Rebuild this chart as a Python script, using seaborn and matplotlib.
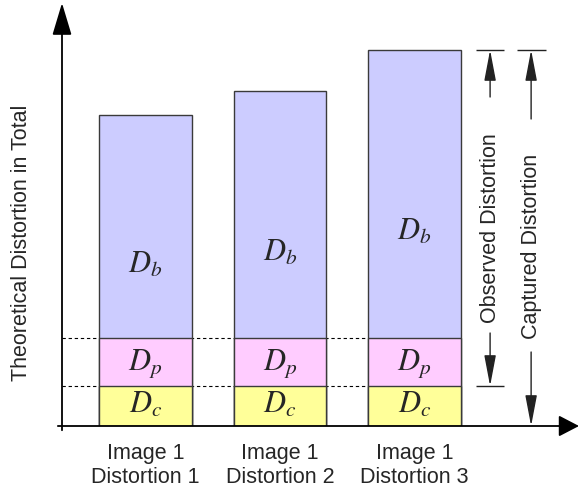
import matplotlib
matplotlib.use("Agg")
import matplotlib.pyplot as plt
import seaborn as sns
import pandas as pd

# Stacked distortion components for each distorted image
labels = ["Image 1\nDistortion 1", "Image 1\nDistortion 2", "Image 1\nDistortion 3"]
d_c = [40, 40, 40]
d_p = [48, 48, 48]
d_b = [223, 247, 288]

sns.set_style("white")
plt.rcParams["font.family"] = ["Liberation Sans", "DejaVu Sans"]
plt.rcParams["mathtext.fontset"] = "stix"

df = pd.DataFrame({"label": labels, "Dc": d_c, "Dp": d_p, "Db": d_b})
df["cp"] = df["Dc"] + df["Dp"]
df["total"] = df["cp"] + df["Db"]

W, H = 579, 499
fig = plt.figure(figsize=(W / 100, H / 100), dpi=100)
ax = fig.add_axes([62 / W, (H - 426) / H, (W - 62) / W, (426 - 3) / H])
ax.patch.set_alpha(0)

edge = "#3a3a3a"
bw = 0.69
blue, pink, yellow = "#ccccff", "#ffccff", "#ffff99"

# overlay cumulative totals to build the stacks
for col, colr in [("total", blue), ("cp", pink), ("Dc", yellow)]:
    sns.barplot(data=df, x="label", y=col, color=colr, width=bw, saturation=1,
                edgecolor=edge, linewidth=1, ax=ax, zorder=2)

x0, x1 = -0.621, 3.223
ax.set_xlim(x0, x1)
ax.set_ylim(0, 423)
ax.set_xlabel("")
ax.set_ylabel("")
ax.set_yticks([])
ax.set_xticks(range(len(labels)))
ax.set_xticklabels(labels, fontsize=15.5, linespacing=1.2)
ax.tick_params(axis="x", length=0, pad=12)
for s in ax.spines.values():
    s.set_visible(False)

# axis arrows
ax.annotate("", xy=(0, 1), xytext=(0, -0.01), xycoords="axes fraction",
            arrowprops=dict(arrowstyle="-|>,head_length=2.0,head_width=0.6",
                            lw=1.3, color="black", shrinkA=0, shrinkB=0,
                            mutation_scale=10), annotation_clip=False)
ax.annotate("", xy=(1, 0), xytext=(-0.008, 0), xycoords="axes fraction",
            arrowprops=dict(arrowstyle="-|>,head_length=1.25,head_width=0.65",
                            lw=1.3, color="black", shrinkA=0, shrinkB=0,
                            mutation_scale=10), annotation_clip=False)

# dashed guides at the segment boundaries
n = len(labels)
ax.hlines([d_c[0], d_c[0] + d_p[0]], x0, n - 1 + bw / 2,
          colors="black", linestyles=(0, (3, 2.5)), lw=0.8, zorder=1)

# segment labels
fs = 22
for i in range(n):
    ax.text(i, d_c[i] / 2 - 7, r"$D_c$", ha="center", va="baseline", fontsize=fs, zorder=3)
    ax.text(i, d_c[i] + d_p[i] / 2 - 8, r"$D_p$", ha="center", va="baseline", fontsize=fs, zorder=3)
    ax.text(i, d_c[i] + d_p[i] + d_b[i] / 2 - 46, r"$D_b$", ha="center", va="baseline",
            fontsize=fs, zorder=3)

ax.text((22 - 62) / (W - 62), (426 - 243) / 423, "Theoretical Distortion in Total",
        transform=ax.transAxes, rotation=90, ha="center", va="center", fontsize=15.5)

# bracket annotations for observed and captured distortion
top = df["total"].iloc[-1]
obs_bottom = df["Dc"].iloc[-1]
arr = dict(arrowstyle="-|>,head_length=1.9,head_width=0.36", lw=1, color="#222222",
           shrinkA=0, shrinkB=0, mutation_scale=10)


def bracket(xc, lo, hi, gap_hi, gap_lo, text, tcenter, tick_lo):
    half = 0.107
    ax.hlines(hi, xc - half, xc + half, colors="#222222", lw=1)
    if tick_lo:
        ax.hlines(lo, xc - half, xc + half, colors="#222222", lw=1)
    ax.annotate("", xy=(xc, hi), xytext=(xc, hi - gap_hi), arrowprops=arr)
    ax.annotate("", xy=(xc, lo), xytext=(xc, lo + gap_lo), arrowprops=arr)
    ax.text(xc, tcenter, text, rotation=90, ha="center", va="center", fontsize=15.5)


bracket(2.562, obs_bottom, top, 47, 53, "Observed Distortion", 198, True)
bracket(2.867, 0, top, 69, 74, "Captured Distortion", 180, False)

fig.savefig("out.png", dpi=100)
